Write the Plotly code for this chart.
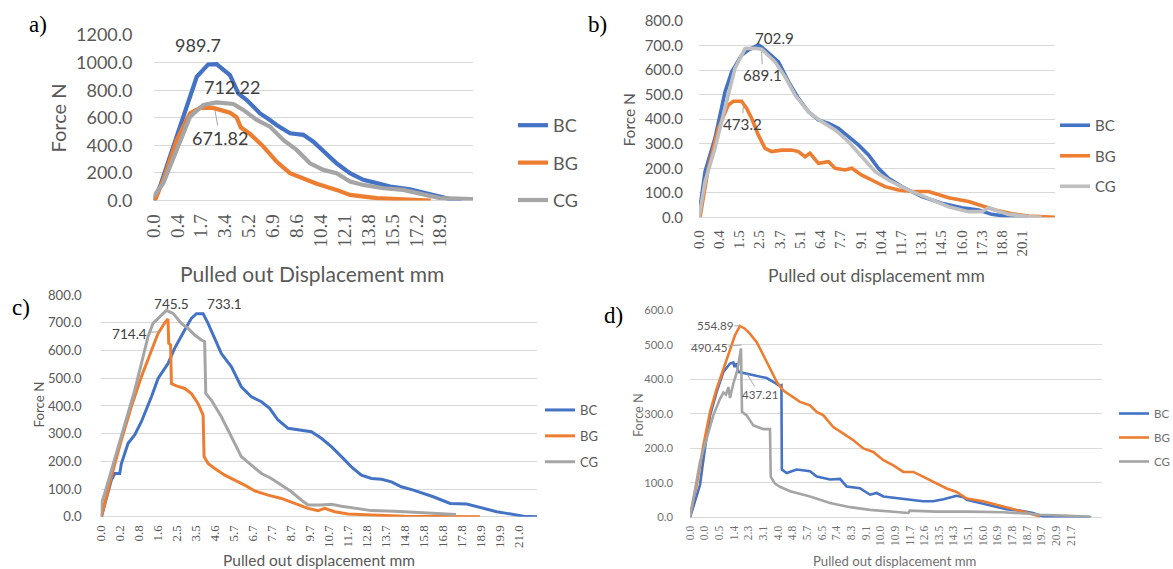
import plotly.graph_objects as go

W, H = 1173, 569

# ---------------- data (x = position along the category axis, in tick-label steps) ----------------
SERIES = ["BC", "BG", "CG"]

A_TICKS = ["0.0", "0.4", "1.7", "3.4", "5.2", "6.9", "8.6", "10.4", "12.1", "13.8", "15.5", "17.2", "18.9"]
A_BC_X = [0, 0.27, 0.69, 1.25, 1.81, 2.29, 2.64, 3.2, 3.55, 3.9, 4.46, 4.87, 5.15, 5.71, 6.27, 6.69, 7.11,
          7.66, 8.22, 8.78, 9.34, 9.9, 10.73, 11.43, 11.99, 12.4, 12.9]
A_BC_Y = [0, 101, 319, 608, 898, 987, 990, 910, 777, 729, 632, 584, 548, 488, 476, 427, 355,
          270, 198, 150, 126, 101, 82, 53, 29, 10, 3]
A_BG_X = [0.06, 0.41, 0.97, 1.53, 1.95, 2.5, 3.2, 3.48, 3.65, 4.04, 4.6, 5.15, 5.71, 6.27, 6.83, 7.66,
          8.22, 9.34, 11.0, 11.6]
A_BG_Y = [0, 150, 439, 632, 672, 672, 637, 603, 531, 483, 391, 282, 198, 157, 121, 77,
          41, 17, 5, 0]
A_CG_X = [0, 0.41, 0.97, 1.53, 2.09, 2.64, 3.34, 3.76, 4.32, 4.87, 5.43, 5.99, 6.55, 7.11, 7.66, 8.22,
          8.78, 9.62, 10.45, 11.43, 11.99, 13.37]
A_CG_Y = [29, 126, 367, 608, 693, 712, 700, 657, 584, 536, 439, 367, 270, 222, 198, 138,
          113, 89, 77, 41, 17, 10]

B_TICKS = ["0.0", "0.4", "1.5", "2.5", "3.7", "5.1", "6.4", "7.7", "9.1", "10.4", "11.7", "13.1", "14.5",
           "16.0", "17.3", "18.8", "20.1"]
B_BC_X = [0, 0.30, 0.79, 1.29, 1.62, 2.11, 2.44, 2.94, 3.10, 3.60, 3.93, 4.43, 4.92, 5.42, 5.91, 6.41,
          6.90, 7.40, 7.89, 8.39, 8.88, 9.38, 10.04, 11.03, 12.02, 13.01, 13.84, 14.49, 15.32, 16.29]
B_BC_Y = [10, 186, 322, 512, 593, 661, 682, 703, 695, 661, 634, 553, 485, 430, 397, 383,
          363, 329, 295, 254, 200, 159, 125, 84, 57, 39, 30, 12, 3, 0]
B_BG_X = [0.05, 0.46, 0.96, 1.45, 1.70, 2.11, 2.36, 2.61, 2.94, 3.27, 3.60, 4.09, 4.59, 4.92, 5.25, 5.49,
          5.91, 6.41, 6.74, 7.23, 7.56, 8.06, 8.72, 9.21, 9.87, 10.53, 11.36, 12.35, 13.34, 14.16, 14.66,
          15.48, 16.31, 17.62]
B_BG_Y = [0, 200, 363, 458, 473, 473, 444, 403, 335, 281, 268, 274, 274, 268, 247, 261,
          220, 227, 200, 193, 200, 172, 145, 125, 111, 105, 105, 80, 64, 43, 30,
          14, 5, 0]
B_CG_X = [0, 0.30, 0.79, 1.29, 1.78, 2.28, 2.77, 3.10, 3.76, 4.26, 4.76, 5.42, 6.08, 6.74, 7.40, 8.06,
          8.72, 9.38, 10.37, 11.36, 12.35, 13.34, 14.0, 14.33, 14.66, 15.32, 16.31, 16.97]
B_CG_Y = [0, 145, 281, 444, 607, 688, 689, 685, 634, 573, 498, 430, 390, 356, 308, 247,
          186, 152, 111, 77, 43, 23, 23, 39, 30, 12, 3, 0]

C_TICKS = ["0.0", "0.2", "0.8", "1.6", "2.5", "3.5", "4.6", "5.7", "6.7", "7.7", "8.7", "9.7", "10.7",
           "11.7", "12.8", "13.7", "14.8", "15.8", "16.8", "17.8", "18.9", "19.9", "21.0"]
C_BC_X = [0.04, 0.56, 0.74, 1.0, 1.09, 1.44, 1.79, 2.14, 2.67, 3.02, 3.54, 3.89, 4.42, 4.77, 5.04,
          5.39, 5.65, 6.0, 6.35, 6.88, 7.4, 7.93, 8.46, 8.89, 9.33, 9.86, 10.56, 11.09, 11.61, 12.14,
          12.67, 13.19, 13.72, 14.25, 14.77, 15.3, 15.82, 16.46, 17.5, 18.39, 19.26, 19.96, 20.84,
          21.37, 22.25, 22.96]
C_BC_Y = [0, 132, 156, 156, 192, 265, 295, 343, 433, 499, 553, 608, 674, 716, 733,
          733, 698, 644, 589, 541, 469, 433, 415, 391, 349, 319, 313, 307, 283, 253,
          217, 180, 150, 138, 135, 126, 108, 96, 72, 48, 46, 34, 18,
          12, 2, 0]
C_BG_X = [0.04, 0.56, 1.09, 1.61, 2.14, 2.67, 3.02, 3.37, 3.54, 3.58, 3.68, 3.72, 3.98, 4.42, 4.77,
          5.12, 5.39, 5.44, 5.65, 6.0, 6.53, 7.05, 7.58, 8.11, 8.81, 9.51, 10.21, 10.91, 11.44, 11.79,
          12.32, 13.02, 14.25, 16.0, 18.0, 19.96]
C_BG_Y = [0, 144, 277, 397, 505, 602, 662, 700, 714, 626, 620, 481, 472, 463, 445,
          409, 367, 217, 192, 174, 150, 132, 114, 93, 78, 66, 48, 30, 22, 30,
          18, 10, 6, 2, 1, 0]
C_CG_X = [0.0, 0.05, 0.21, 1.09, 1.79, 2.14, 2.49, 2.75, 3.11, 3.46, 3.81, 4.25, 4.6, 4.95, 5.3, 5.47,
          5.53, 5.82, 6.35, 6.88, 7.4, 7.93, 8.46, 8.98, 9.51, 10.04, 10.56, 10.91, 11.61, 12.14,
          12.67, 13.37, 14.25, 15.47, 16.88, 17.93, 18.7]
C_CG_Y = [0, 50, 84, 289, 457, 553, 650, 698, 722, 745, 734, 698, 680, 656, 638, 632,
          445, 421, 361, 289, 217, 186, 156, 138, 114, 90, 60, 42, 42, 45,
          38, 30, 22, 20, 14, 10, 8]

D_TICKS = ["0.0", "0.0", "0.5", "1.4", "2.3", "3.1", "4.0", "4.8", "5.7", "6.5", "7.4", "8.3", "9.1",
           "10.0", "10.9", "11.7", "12.6", "13.5", "14.3", "15.1", "16.0", "16.9", "17.8", "18.7",
           "19.7", "20.9", "21.7"]
D_BC_X = [0, 0.34, 0.68, 1.02, 1.37, 1.82, 2.28, 2.73, 2.96, 3.03, 3.19, 3.3, 3.87, 4.55, 5.23,
          5.69, 6.14, 6.24, 6.27, 6.6, 7.28, 8.19, 8.65, 9.56, 10.24, 10.69, 11.6, 12.29, 12.74, 13.2,
          14.1, 15.0, 15.9, 16.6, 17.3, 18.2, 18.66, 18.9, 19.8, 20.7, 21.6, 22.5, 23.4, 24.1, 25.0,
          25.9, 27.3]
D_BC_Y = [0, 45, 94, 200, 296, 364, 422, 446, 449, 436, 446, 422, 417, 412, 404,
          393, 381, 383, 139, 129, 139, 134, 119, 110, 112, 90, 85, 66, 71, 61,
          56, 51, 47, 47, 53, 63, 59, 51, 42, 32, 24, 20, 13, 3, 0,
          3, 1]
D_BG_X = [0, 0.46, 0.91, 1.37, 1.82, 2.28, 2.73, 3.07, 3.41, 3.75, 4.1, 4.55, 5.01, 5.46, 5.92,
          6.37, 6.83, 7.51, 8.19, 8.65, 9.1, 9.78, 10.47, 11.15, 11.83, 12.51, 13.2, 13.88, 14.56,
          15.24, 15.7, 16.61, 17.52, 18.2, 18.89, 20.0, 21.4, 22.75, 23.9]
D_BG_Y = [7, 94, 209, 306, 373, 431, 489, 528, 555, 547, 532, 508, 470, 431, 393,
          368, 354, 335, 325, 306, 296, 262, 243, 224, 200, 190, 166, 151, 132,
          132, 123, 103, 84, 74, 55, 47, 32, 17, 3]
D_CG_X = [0, 0.68, 1.14, 1.59, 2.05, 2.28, 2.46, 2.62, 2.73, 2.96, 3.23, 3.41, 3.48, 3.55, 3.87,
          4.32, 5.01, 5.46, 5.51, 5.8, 6.14, 6.83, 8.19, 9.56, 10.92, 12.29, 13.65, 14.9, 15.0, 16.8,
          19.1, 21.4, 23.2, 23.9, 25.9, 27.4]
D_CG_Y = [0, 161, 229, 296, 344, 362, 356, 378, 346, 388, 426, 470, 490, 306, 296,
          267, 256, 256, 118, 98, 89, 76, 61, 42, 30, 22, 17, 13, 20, 17,
          17, 15, 11, 8, 5, 1]

# ---------------- styling ----------------
BLUE, ORANGE, GRAY = "#4472C4", "#ED7D31", "#A5A5A5"
SANS = "Lato, 'Open Sans', sans-serif"
SERIF = "'Liberation Serif', 'Times New Roman', serif"
GRID = "#D9D9D9"


def xfrac(p):
    return p / W


def yfrac(p):
    return 1 - p / H


panels = [
    dict(k="", ticks=A_TICKS, data=[(A_BC_X, A_BC_Y), (A_BG_X, A_BG_Y), (A_CG_X, A_CG_Y)],
         xd=(153.5, 473), yd=(35, 200.5), xmax=13.37, ymax=1200, dt=200, lw=4.2,
         cols=[BLUE, ORANGE, GRAY], yt=18, xt=19, ystand=20, xstand=9, tc="#595959",
         leg=dict(x=513, y=107, size=18, gap=11)),
    dict(k="2", ticks=B_TICKS, data=[(B_BC_X, B_BC_Y), (B_BG_X, B_BG_Y), (B_CG_X, B_CG_Y)],
         xd=(699, 1055), yd=(21, 217.3), xmax=17.62, ymax=800, dt=100, lw=3.6,
         cols=[BLUE, ORANGE, "#BFBFBF"], yt=15, xt=15, ystand=15, xstand=9, tc="#595959",
         leg=dict(x=1055, y=109, size=15, gap=8)),
    dict(k="3", ticks=C_TICKS, data=[(C_BC_X, C_BC_Y), (C_BG_X, C_BG_Y), (C_CG_X, C_CG_Y)],
         xd=(100.7, 537), yd=(295, 516.7), xmax=22.96, ymax=800, dt=100, lw=3.0,
         cols=[BLUE, ORANGE, GRAY], yt=13.2, xt=13, ystand=18, xstand=5, tc="#595959",
         leg=dict(x=540, y=395, size=13, gap=6)),
    dict(k="4", ticks=D_TICKS, data=[(D_BC_X, D_BC_Y), (D_BG_X, D_BG_Y), (D_CG_X, D_CG_Y)],
         xd=(690, 1101.7), yd=(310.3, 517.5), xmax=28.1, ymax=600, dt=100, lw=2.6,
         cols=[BLUE, ORANGE, GRAY], yt=11.3, xt=11.5, ystand=16, xstand=5, tc="#707070",
         leg=dict(x=1114, y=399, size=11.5, gap=5)),
]

fig = go.Figure()
layout = dict(
    width=W, height=H, margin=dict(l=0, r=0, t=0, b=0, autoexpand=False),
    paper_bgcolor="white", plot_bgcolor="white", showlegend=True,
)

for i, p in enumerate(panels):
    k = p["k"]
    legname = "legend" + k
    for j, (xs, ys) in enumerate(p["data"]):
        fig.add_trace(go.Scatter(
            x=xs, y=ys, mode="lines", name=SERIES[j],
            line=dict(color=p["cols"][j], width=p["lw"]),
            xaxis="x" + k, yaxis="y" + k, legend=legname,
            legendgroup=f"p{i}s{j}", hoverinfo="skip",
        ))
    layout["xaxis" + k] = dict(
        domain=[xfrac(p["xd"][0]), xfrac(p["xd"][1])], anchor="y" + k,
        range=[0, p["xmax"]], tickmode="array",
        tickvals=list(range(len(p["ticks"]))), ticktext=p["ticks"],
        tickangle=-90, showgrid=False, zeroline=False, showline=False, ticks="",
        tickfont=dict(family=SERIF, size=p["xt"], color=p["tc"]),
        ticklabelstandoff=p["xstand"], fixedrange=True, automargin=False,
    )
    layout["yaxis" + k] = dict(
        domain=[yfrac(p["yd"][1]), yfrac(p["yd"][0])], anchor="x" + k,
        range=[0, p["ymax"] * 1.0005], dtick=p["dt"], tick0=0, tickformat=".1f",
        showgrid=True, gridcolor=GRID, gridwidth=1,
        zeroline=True, zerolinecolor=GRID, zerolinewidth=1, showline=False, ticks="",
        tickfont=dict(family=SANS, size=p["yt"], color=p["tc"]),
        ticklabelstandoff=p["ystand"], fixedrange=True, automargin=False,
    )
    lg = p["leg"]
    layout[legname] = dict(
        x=xfrac(lg["x"]), y=yfrac(lg["y"]), xanchor="left", yanchor="top",
        bgcolor="rgba(0,0,0,0)", borderwidth=0, traceorder="grouped",
        tracegroupgap=lg["gap"], font=dict(family=SANS, size=lg["size"], color=p["tc"]),
        itemclick=False, itemdoubleclick=False,
    )

fig.update_layout(**layout)

ann = []


def paper_text(text, px, py, size, color="#595959", family=SANS, angle=0):
    ann.append(dict(text=text, x=xfrac(px), y=yfrac(py), xref="paper", yref="paper",
                    xanchor="center", yanchor="middle", showarrow=False, textangle=angle,
                    font=dict(family=family, size=size, color=color)))


# panel letters
for t, px, py in [("a)", 38, 24), ("b)", 597, 24), ("c)", 21, 307), ("d)", 613, 315)]:
    paper_text(t, px, py, 23, color="#000000", family=SERIF)

# axis titles
paper_text("Force N", 57.5, 118, 20, angle=-90)
paper_text("Pulled out Displacement mm", 312, 273, 21)
paper_text("Force N", 628.5, 120, 15.5, angle=-90)
paper_text("Pulled out displacement mm", 877, 275, 17.5)
paper_text("Force N", 38.5, 405, 13.3, angle=-90)
paper_text("Pulled out displacement mm", 319, 559.5, 15.5)
paper_text("Force N", 638, 415, 12.7, color="#707070", angle=-90)
paper_text("Pulled out displacement mm", 894, 561, 13.2, color="#707070")


def peak_label(text, k, x, y, size, color="#404040", ax=None, ay=None):
    d = dict(text=text, x=x, y=y, xref="x" + k, yref="y" + k,
             font=dict(family=SANS, size=size, color=color))
    if ax is None:
        d.update(showarrow=False, xanchor="center", yanchor="middle")
    else:
        d.update(showarrow=True, ax=ax, ay=ay, arrowhead=0, arrowwidth=1,
                 arrowcolor="#A5A5A5", standoff=0, startstandoff=0)
    ann.append(d)


peak_label("989.7", "", 1.86, 1127, 18)
peak_label("712.22", "", 3.28, 823, 18)
peak_label("671.82", "", 2.57, 656, 18, ax=5, ay=28)
peak_label("702.9", "2", 3.76, 731, 15.2)
peak_label("689.1", "2", 3.10, 675, 15.2, ax=1, ay=23)
peak_label("473.2", "2", 2.19, 451, 15.2, ax=-1, ay=17)
peak_label("745.5", "3", 3.72, 768, 13.6)
peak_label("733.1", "3", 6.53, 768, 13.6)
peak_label("714.4", "3", 3.1, 668, 13.6, ax=-30, ay=2)
peak_label("554.89", "4", 3.41, 555, 11.6, color="#595959", ax=-25, ay=0)
peak_label("490.45", "4", 3.53, 500, 11.6, color="#595959", ax=-33, ay=3)
peak_label("437.21", "4", 3.87, 417, 11.6, color="#595959", ax=13, ay=21)

fig.update_layout(annotations=ann)

fig.write_html("out.html", include_plotlyjs=True, full_html=True,
               config={"displayModeBar": False})
